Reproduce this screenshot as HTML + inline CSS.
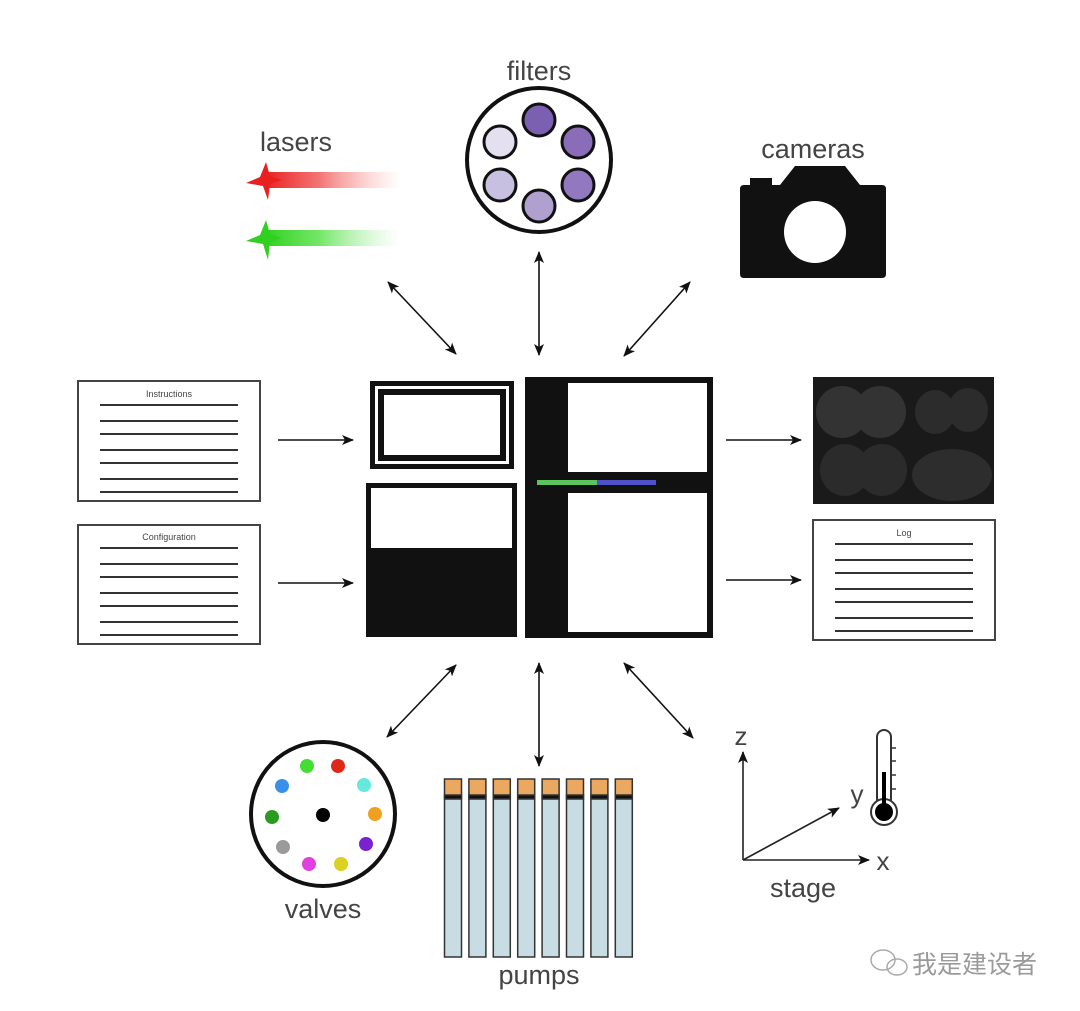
<!DOCTYPE html>
<html><head><meta charset="utf-8"><style>
html,body{margin:0;padding:0;background:#fff}
svg{display:block}
text{font-family:"Liberation Sans","DejaVu Sans",sans-serif;fill:#444}
</style></head><body>
<svg width="1080" height="1011" viewBox="0 0 1080 1011" xmlns="http://www.w3.org/2000/svg">
<defs>
<marker id="ah" viewBox="0 0 12 10" refX="11" refY="5" markerWidth="12" markerHeight="10" orient="auto-start-reverse" markerUnits="userSpaceOnUse">
<path d="M0,0 L12,5 L0,10 L3,5 z" fill="#111"/></marker>
<linearGradient id="rg" x1="0" x2="1"><stop offset="0" stop-color="#e82020"/><stop offset="0.4" stop-color="#f05050" stop-opacity="0.8"/><stop offset="1" stop-color="#f8a0a0" stop-opacity="0"/></linearGradient>
<linearGradient id="gg" x1="0" x2="1"><stop offset="0" stop-color="#30d020"/><stop offset="0.4" stop-color="#50e040" stop-opacity="0.8"/><stop offset="1" stop-color="#a0f0a0" stop-opacity="0"/></linearGradient>
</defs>

<text x="539" y="80" font-size="27" text-anchor="middle">filters</text>
<circle cx="539" cy="160" r="72" fill="#fff" stroke="#111" stroke-width="4"/>
<g stroke="#111" stroke-width="3">
<circle cx="539" cy="120" r="16" fill="#7b5fb0"/>
<circle cx="578" cy="142" r="16" fill="#8a6cb8"/>
<circle cx="578" cy="185" r="16" fill="#9278be"/>
<circle cx="539" cy="206" r="16" fill="#b0a0d0"/>
<circle cx="500" cy="185" r="16" fill="#c8c0e0"/>
<circle cx="500" cy="142" r="16" fill="#e4e0f0"/>
</g>

<text x="260" y="151" font-size="27">lasers</text>
<rect x="265" y="172" width="135" height="16" fill="url(#rg)"/>
<path d="M266,162 L270,176 L282,180 L270,184 L268,200 L263,186 L246,183 L260,177 z" fill="#e82020"/>
<rect x="265" y="230" width="135" height="16" fill="url(#gg)"/>
<path d="M266,220 L270,234 L282,238 L270,242 L268,260 L263,244 L246,241 L260,235 z" fill="#30d020"/>

<text x="813" y="158" font-size="27" text-anchor="middle">cameras</text>
<path d="M744,185 L750,185 L750,178 L772,178 L772,185 L780,185 L795,166 L845,166 L860,185 L882,185 Q886,185 886,189 L886,274 Q886,278 882,278 L744,278 Q740,278 740,274 L740,189 Q740,185 744,185 z" fill="#111"/>
<circle cx="815" cy="232" r="31" fill="#fff"/>

<g stroke="#111" stroke-width="1.6" marker-start="url(#ah)" marker-end="url(#ah)">
<line x1="388" y1="282" x2="456" y2="354"/>
<line x1="539" y1="252" x2="539" y2="355"/>
<line x1="690" y1="282" x2="624" y2="356"/>
<line x1="456" y1="665" x2="387" y2="737"/>
<line x1="539" y1="663" x2="539" y2="766"/>
<line x1="624" y1="663" x2="693" y2="738"/>
</g>
<g stroke="#111" stroke-width="1.6" marker-end="url(#ah)">
<line x1="278" y1="440" x2="353" y2="440"/>
<line x1="278" y1="583" x2="353" y2="583"/>
<line x1="726" y1="440" x2="801" y2="440"/>
<line x1="726" y1="580" x2="801" y2="580"/>
</g>

<rect x="370" y="381" width="144" height="88" fill="#111"/>
<rect x="375" y="386" width="134" height="78" fill="#fff"/>
<rect x="378" y="389" width="128" height="72" fill="#111"/>
<rect x="384" y="395" width="116" height="60" fill="#fff"/>
<rect x="366" y="483" width="151" height="154" fill="#111"/>
<rect x="371" y="488" width="141" height="60" fill="#fff"/>
<rect x="525" y="377" width="188" height="261" fill="#111"/>
<rect x="568" y="383" width="139" height="89" fill="#fff"/>
<rect x="568" y="493" width="139" height="139" fill="#fff"/>
<rect x="537" y="480" width="60" height="5" fill="#5cc45c"/>
<rect x="597" y="480" width="59" height="5" fill="#5050c8"/>

<g fill="#fff" stroke="#444" stroke-width="2">
<rect x="78" y="381" width="182" height="120"/>
<rect x="78" y="525" width="182" height="119"/>
<rect x="813" y="520" width="182" height="120"/>
</g>
<text x="169" y="397" font-size="9" text-anchor="middle">Instructions</text>
<text x="169" y="540" font-size="9" text-anchor="middle">Configuration</text>
<text x="904" y="536" font-size="9" text-anchor="middle">Log</text>
<g stroke="#333" stroke-width="2">
<line x1="100" y1="405" x2="238" y2="405"/><line x1="100" y1="421" x2="238" y2="421"/><line x1="100" y1="434" x2="238" y2="434"/><line x1="100" y1="450" x2="238" y2="450"/><line x1="100" y1="463" x2="238" y2="463"/><line x1="100" y1="479" x2="238" y2="479"/><line x1="100" y1="492" x2="238" y2="492"/>
<line x1="100" y1="548" x2="238" y2="548"/><line x1="100" y1="564" x2="238" y2="564"/><line x1="100" y1="577" x2="238" y2="577"/><line x1="100" y1="593" x2="238" y2="593"/><line x1="100" y1="606" x2="238" y2="606"/><line x1="100" y1="622" x2="238" y2="622"/><line x1="100" y1="635" x2="238" y2="635"/>
<line x1="835" y1="544" x2="973" y2="544"/><line x1="835" y1="560" x2="973" y2="560"/><line x1="835" y1="573" x2="973" y2="573"/><line x1="835" y1="589" x2="973" y2="589"/><line x1="835" y1="602" x2="973" y2="602"/><line x1="835" y1="618" x2="973" y2="618"/><line x1="835" y1="631" x2="973" y2="631"/>
</g>

<rect x="813" y="377" width="181" height="127" fill="#1a1a1a"/>
<g fill="#333">
<ellipse cx="842" cy="412" rx="26" ry="26"/><ellipse cx="880" cy="412" rx="26" ry="26"/>
<ellipse cx="935" cy="412" rx="20" ry="22" fill="#2c2c2c"/><ellipse cx="968" cy="410" rx="20" ry="22" fill="#2c2c2c"/>
<ellipse cx="845" cy="470" rx="25" ry="26" fill="#2b2b2b"/><ellipse cx="882" cy="470" rx="25" ry="26" fill="#2b2b2b"/>
<ellipse cx="952" cy="475" rx="40" ry="26" fill="#2d2d2d"/>
</g>

<circle cx="323" cy="814" r="72" fill="#fff" stroke="#111" stroke-width="4"/>
<circle cx="323" cy="815" r="7" fill="#000"/>
<circle cx="307" cy="766" r="7" fill="#44dd33"/>
<circle cx="338" cy="766" r="7" fill="#e02818"/>
<circle cx="364" cy="785" r="7" fill="#66e8dd"/>
<circle cx="282" cy="786" r="7" fill="#3a90e8"/>
<circle cx="272" cy="817" r="7" fill="#2a9a20"/>
<circle cx="375" cy="814" r="7" fill="#f0a020"/>
<circle cx="283" cy="847" r="7" fill="#9a9a9a"/>
<circle cx="366" cy="844" r="7" fill="#7a22d0"/>
<circle cx="309" cy="864" r="7" fill="#e040e0"/>
<circle cx="341" cy="864" r="7" fill="#dcd020"/>
<text x="323" y="918" font-size="27" text-anchor="middle">valves</text>

<g stroke="#333" stroke-width="1.5">
<g id="p"><rect x="444.5" y="779" width="17" height="18" fill="#eaa860"/><rect x="444.5" y="795" width="17" height="4" fill="#111"/><rect x="444.5" y="799" width="17" height="158" fill="#c8dde3"/></g>
<use href="#p" x="24.4"/><use href="#p" x="48.8"/><use href="#p" x="73.2"/><use href="#p" x="97.6"/><use href="#p" x="122"/><use href="#p" x="146.4"/><use href="#p" x="170.8"/>
</g>
<text x="539" y="984" font-size="27" text-anchor="middle">pumps</text>

<g stroke="#222" stroke-width="1.6" marker-end="url(#ah)">
<line x1="743" y1="860" x2="743" y2="752"/>
<line x1="743" y1="860" x2="869" y2="860"/>
<line x1="743" y1="860" x2="839" y2="808"/>
</g>
<text x="741" y="745" font-size="26" text-anchor="middle">z</text>
<text x="883" y="870" font-size="26" text-anchor="middle">x</text>
<text x="857" y="803" font-size="26" text-anchor="middle">y</text>
<text x="803" y="897" font-size="27" text-anchor="middle">stage</text>
<rect x="877" y="730" width="14" height="76" rx="7" fill="#fff" stroke="#333" stroke-width="2"/>
<circle cx="884" cy="812" r="13" fill="#fff" stroke="#333" stroke-width="2"/>
<circle cx="884" cy="812" r="9" fill="#000"/>
<rect x="882" y="772" width="4" height="36" fill="#000"/>
<g stroke="#333" stroke-width="1.5"><line x1="891" y1="748" x2="896" y2="748"/><line x1="891" y1="761" x2="896" y2="761"/><line x1="891" y1="775" x2="896" y2="775"/><line x1="891" y1="789" x2="896" y2="789"/></g>

<g fill="none" stroke="#aaa" stroke-width="1.5">
<ellipse cx="883" cy="960" rx="12" ry="10"/><ellipse cx="897" cy="967" rx="10" ry="8"/>
</g>
<text x="912" y="973" font-size="25" style="fill:#9a9a9a;font-family:'Liberation Sans','Noto Sans CJK SC',sans-serif">我是建设者</text>
</svg>
</body></html>
